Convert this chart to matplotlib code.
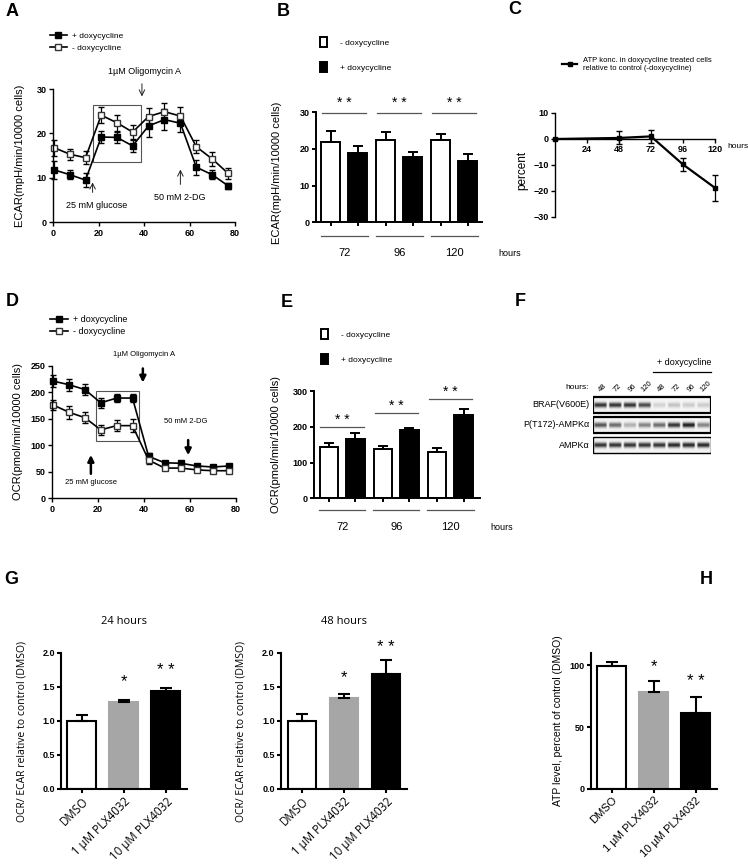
import numpy as np
import matplotlib
matplotlib.use("Agg")
import matplotlib.pyplot as plt
import matplotlib.transforms as mtransforms
from matplotlib.patches import Rectangle

plt.rcParams['font.family'] = ['Liberation Sans', 'DejaVu Sans']

W, H = 748, 867

# A / D: seahorse time course (minutes)
time_min = [0.5, 7.5, 14.3, 21.2, 28.1, 35, 42, 49, 56, 63, 70, 77]
ecar_dox = [11.8, 10.7, 9.5, 19.2, 19.1, 17.2, 21.7, 23.1, 22.3, 12.4, 10.7, 8.2]
ecar_dox_err = [2.0, 1.0, 1.5, 1.3, 1.3, 1.4, 2.4, 2.3, 2.0, 1.7, 1.0, 0.7]
ecar_ctrl = [16.8, 15.3, 14.55, 24.1, 22.4, 20.3, 23.8, 24.9, 23.9, 17.0, 14.25, 11.0]
ecar_ctrl_err = [1.8, 1.2, 1.5, 1.8, 1.8, 1.5, 2.0, 2.0, 2.0, 1.5, 1.5, 1.2]
ocr_dox = [221, 214, 205, 180, 189, 189, 79, 67, 66, 61, 59, 61]
ocr_dox_err = [12, 11, 10, 10, 8, 7, 6, 4, 4, 3, 3, 3]
ocr_ctrl = [176, 162, 152, 129, 137, 137, 72, 57, 57, 53.5, 52, 52]
ocr_ctrl_err = [10, 12, 10, 10, 11, 12, 8, 4, 3, 3, 3, 3]

# B / E: bars per time point
hours = ['72', '96', '120']
ecar_bar_ctrl = [22.0, 22.5, 22.4]
ecar_bar_ctrl_err = [3.0, 2.1, 1.8]
ecar_bar_dox = [19.0, 17.7, 16.8]
ecar_bar_dox_err = [1.7, 1.5, 1.7]
ocr_bar_ctrl = [142.6, 137, 128.6]
ocr_bar_ctrl_err = [13, 10, 11.2]
ocr_bar_dox = [166, 191, 233]
ocr_bar_dox_err = [16.7, 6.6, 16.8]
ocr_sig_y = [200, 237.6, 277.7]

# C: ATP relative to control
atp_hours = [0, 48, 72, 96, 120]
atp_rel = [0, 0.4, 1.0, -9.8, -18.8]
atp_rel_err = [0, 2.5, 2.4, 2.4, 5.0]

# F: western blot band intensities
blot_rows = ['BRAF(V600E)', 'P(T172)-AMPKα', 'AMPKα']
blot_lanes = ['48', '72', '96', '120', '48', '72', '96', '120']
band_braf = [0.85, 0.85, 0.85, 0.75, 0.15, 0.22, 0.18, 0.18]
band_pampk = [0.7, 0.6, 0.3, 0.5, 0.6, 0.85, 0.95, 0.5]
band_ampk = [0.85, 0.85, 0.85, 0.85, 0.85, 0.9, 0.9, 0.9]

# G / H: PLX4032 treatment
treatments = ['DMSO', '1 µM PLX4032', '10 µM PLX4032']
ratio_24h = [1.0, 1.275, 1.44]
ratio_24h_err = [0.083, 0.035, 0.035]
ratio_48h = [1.0, 1.34, 1.68]
ratio_48h_err = [0.10, 0.06, 0.22]
atp_plx = [99.5, 78.6, 61.5]
atp_plx_err = [3.0, 8.7, 13.0]
stars = ['', '*', '**']
bar_colors = ['white', '#a6a6a6', 'black']

fig = plt.figure(figsize=(W / 100, H / 100), dpi=100)


def add_ax(left, top, right, bottom):
    return fig.add_axes([left / W, 1 - bottom / H, (right - left) / W, (bottom - top) / H])


def style(ax, lw=1.0):
    ax.spines['top'].set_visible(False)
    ax.spines['right'].set_visible(False)
    ax.spines['left'].set_linewidth(lw)
    ax.spines['bottom'].set_linewidth(lw)
    ax.tick_params(width=lw, length=3, labelsize=6.5, pad=1.5)
    for t in ax.get_xticklabels() + ax.get_yticklabels():
        t.set_fontweight('bold')


def letter(x, y, s):
    fig.text(x / W, 1 - y / H, s, fontsize=13, fontweight='bold', ha='center', va='center')


# ---------- A / D time courses
def time_course(ax, dox, dox_err, ctrl, ctrl_err):
    e1 = ax.errorbar(time_min, dox, yerr=dox_err, color='black', marker='s', ms=4,
                     mfc='black', mec='black', lw=1.2, capsize=2, elinewidth=0.9,
                     clip_on=False)
    e2 = ax.errorbar(time_min, ctrl, yerr=ctrl_err, color='black', marker='s', ms=4,
                     mfc='white', mec='#333', lw=1.2, capsize=2, elinewidth=0.9,
                     clip_on=False)
    ax.set_xlim(0, 80)
    ax.set_xticks([0, 20, 40, 60, 80])
    return [e1.lines[0], e2.lines[0]]


axA = add_ax(53, 89, 235, 222.3)
lines = time_course(axA, ecar_dox, ecar_dox_err, ecar_ctrl, ecar_ctrl_err)
axA.set_ylim(0, 30)
axA.set_yticks([0, 10, 20, 30])
style(axA)
axA.set_ylabel('ECAR(mpH/min/10000 cells)', fontsize=8)
axA.yaxis.set_label_coords(-0.155, 0.5)
axA.add_patch(Rectangle((17.7, 13.65), 20.8, 12.65, fill=False, ec='#555', lw=0.8))
arr = dict(arrowstyle='->', lw=0.7, color='#222')
axA.annotate('', xy=(39.1, 27.7), xytext=(39.1, 31.8), arrowprops=arr, annotation_clip=False)
axA.text(40, 34, '1µM Oligomycin A', fontsize=6.5, ha='center', va='center', clip_on=False)
axA.annotate('', xy=(17.4, 9.6), xytext=(17.4, 6.1), arrowprops=arr)
axA.text(19.2, 3.7, '25 mM glucose', fontsize=6.5, ha='center', va='center')
axA.annotate('', xy=(56, 12.5), xytext=(56, 7.9), arrowprops=arr)
axA.text(55.7, 5.6, '50 mM 2-DG', fontsize=6.5, ha='center', va='center')
axA.legend(lines, ['+ doxycycline', '- doxycycline'], loc='upper left',
           bbox_to_anchor=(50 / W, 1 - 32 / H), bbox_transform=fig.transFigure,
           frameon=False, fontsize=6, handlelength=2, handletextpad=0.6, labelspacing=0.5,
           borderpad=0, borderaxespad=0)

axD = add_ax(52, 365.7, 236, 498.3)
lines = time_course(axD, ocr_dox, ocr_dox_err, ocr_ctrl, ocr_ctrl_err)
axD.set_ylim(0, 250)
axD.set_yticks([0, 50, 100, 150, 200, 250])
style(axD)
axD.set_ylabel('OCR(pmol/min/10000 cells)', fontsize=8)
axD.yaxis.set_label_coords(-0.158, 0.5)
axD.add_patch(Rectangle((19.2, 108), 18.6, 95, fill=False, ec='#555', lw=0.8))
arrD = dict(arrowstyle='-|>', lw=1.8, color='black', mutation_scale=9)
axD.annotate('', xy=(39.5, 213), xytext=(39.5, 250), arrowprops=arrD, annotation_clip=False)
axD.text(40, 272, '1µM Oligomycin A', fontsize=5.5, ha='center', va='center', clip_on=False)
axD.annotate('', xy=(16.9, 87), xytext=(16.9, 41), arrowprops=arrD)
axD.text(17, 30, '25 mM glucose', fontsize=5.5, ha='center', va='center')
axD.annotate('', xy=(59.2, 76), xytext=(59.2, 115), arrowprops=arrD)
axD.text(58, 144, '50 mM 2-DG', fontsize=5.5, ha='center', va='center')
axD.legend(lines, ['+ doxycycline', '- doxycycline'], loc='upper left',
           bbox_to_anchor=(50 / W, 1 - 315 / H), bbox_transform=fig.transFigure,
           frameon=False, fontsize=6.5, handlelength=2, handletextpad=0.6, labelspacing=0.35,
           borderpad=0, borderaxespad=0)


# ---------- B / E grouped bars
def group_bars(ax, ctrl, ctrl_err, dox, dox_err, sig_y, star_y, line_y, lab_y, hours_x):
    x = np.arange(len(hours))
    wb = ax.bar(x - 0.245, ctrl, 0.345, color='white', edgecolor='black', lw=1.4,
                yerr=[[0] * 3, ctrl_err], capsize=3.5, error_kw=dict(lw=1.4, capthick=1.4),
                label='- doxycycline')
    bb = ax.bar(x + 0.245, dox, 0.345, color='black', edgecolor='black', lw=1.4,
                yerr=[[0] * 3, dox_err], capsize=3.5, error_kw=dict(lw=1.4, capthick=1.4),
                label='+ doxycycline')
    ax.set_xticks(list(x - 0.245) + list(x + 0.245))
    ax.set_xticklabels([])
    trans = mtransforms.blended_transform_factory(ax.transData, ax.transAxes)
    for i, c in enumerate(x):
        ax.plot([c - 0.4, c + 0.4], [sig_y[i]] * 2, color='#555', lw=0.9, clip_on=False)
        ax.text(c, star_y[i], '* *', ha='center', va='center', fontsize=10, clip_on=False)
        ax.plot([c - 0.43, c + 0.43], [line_y] * 2, color='#555', lw=0.9, clip_on=False,
                transform=trans)
        ax.text(c, lab_y, hours[i], ha='center', va='center', fontsize=8, transform=trans)
    ax.text(hours_x, lab_y, 'hours', ha='left', va='center', fontsize=6.5, transform=trans)
    return wb, bb


legend_kw = dict(bbox_transform=fig.transFigure, frameon=False, fontsize=6, handlelength=0.8,
                 handleheight=1.4, handletextpad=1.6, labelspacing=1.9, borderpad=0,
                 borderaxespad=0, loc='upper left')

axB = add_ax(315.7, 112.3, 481.7, 222.3)
handles = group_bars(axB, ecar_bar_ctrl, ecar_bar_ctrl_err, ecar_bar_dox, ecar_bar_dox_err,
                     [29.7] * 3, [32.5] * 3, -0.127, -0.28, 2.8)
axB.set_xlim(-0.52, 2.5)
axB.set_ylim(0, 30)
axB.set_yticks([0, 10, 20, 30])
style(axB, 1.4)
axB.set_ylabel('ECAR(mpH/min/10000 cells)', fontsize=8)
axB.yaxis.set_label_coords(-0.2, 0.45)
axB.legend(handles=handles, bbox_to_anchor=(320 / W, 1 - 37 / H), **legend_kw)

axE = add_ax(314, 391, 480, 498.3)
handles = group_bars(axE, ocr_bar_ctrl, ocr_bar_ctrl_err, ocr_bar_dox, ocr_bar_dox_err,
                     ocr_sig_y, [s + 20 for s in ocr_sig_y], -0.109, -0.27, 2.75)
axE.set_xlim(-0.52, 2.55)
axE.set_ylim(0, 300)
axE.set_yticks([0, 100, 200, 300])
style(axE, 1.4)
axE.set_ylabel('OCR(pmol/min/10000 cells)', fontsize=8)
axE.yaxis.set_label_coords(-0.2, 0.5)
axE.legend(handles=handles, bbox_to_anchor=(321 / W, 1 - 329 / H), **legend_kw)

# ---------- C
axC = add_ax(555, 113, 715, 217)
eC = axC.errorbar(atp_hours, atp_rel, yerr=atp_rel_err, color='black', marker='s', ms=3,
                  lw=1.6, capsize=2, elinewidth=0.9, clip_on=False)
axC.set_xlim(0, 120)
axC.set_ylim(-30, 10)
axC.set_xticks([24, 48, 72, 96, 120])
axC.set_yticks([-30, -20, -10, 0, 10])
axC.spines['bottom'].set_position(('data', 0))
style(axC)
axC.set_ylabel('percent', fontsize=8.5)
axC.yaxis.set_label_coords(-0.17, 0.45)
axC.text(129, -3, 'hours', fontsize=6, ha='left', va='center')
axC.legend([eC.lines[0]],
           ['ATP konc. in doxycycline treated cells\nrelative to control (-doxycycline)'],
           loc='upper left', bbox_to_anchor=(562 / W, 1 - 57 / H), bbox_transform=fig.transFigure,
           frameon=False, fontsize=5.5, handlelength=2, handletextpad=0.7,
           borderpad=0, borderaxespad=0)

# ---------- F western blot
axF = add_ax(593, 395, 711, 455)


def blot_row(levels, nx=240, ny=40):
    xs = np.linspace(-0.5, 7.5, nx)
    ys = np.linspace(-0.5, 0.5, ny)
    lane = np.clip(np.round(xs), 0, 7).astype(int)
    dist = np.abs(xs - np.round(xs))
    hprof = np.clip((0.46 - dist) / 0.1, 0, 1)
    vprof = np.exp(-(ys / 0.16) ** 2)
    amp = np.array(levels)[lane] * hprof
    return 0.96 - 0.9 * vprof[:, None] * amp[None, :]


for r, levels in enumerate([band_braf, band_pampk, band_ampk]):
    axF.imshow(blot_row(levels), cmap='gray', vmin=0, vmax=1, aspect='auto',
               extent=(-0.5, 7.5, r + 0.4, r - 0.4), interpolation='bilinear')
    axF.add_patch(Rectangle((-0.5, r - 0.4), 8, 0.8, fill=False, ec='black',
                            lw=1.6 if r < 2 else 1.0))
    axF.text(-0.75, r, blot_rows[r], ha='right', va='center', fontsize=6.5, clip_on=False)
axF.set_xlim(-0.5, 7.5)
axF.set_ylim(2.5, -0.5)
axF.axis('off')
for i, lab in enumerate(blot_lanes):
    axF.text(i + 0.15, -0.6, lab, rotation=45, ha='center', va='bottom', fontsize=5.5,
             clip_on=False)
axF.text(-0.75, -0.85, 'hours:', ha='right', va='center', fontsize=6)
axF.plot([3.6, 7.5], [-1.65, -1.65], color='black', lw=0.9, clip_on=False)
axF.text(5.7, -2.1, '+ doxycycline', ha='center', va='center', fontsize=6.5)


# ---------- G / H single bars
def treatment_bars(ax, vals, errs, star_y, font, tick_size):
    x = np.arange(len(treatments))
    ax.bar(x, vals, 0.69, color=bar_colors, edgecolor=['black', '#a6a6a6', 'black'], lw=1.5,
           yerr=[[0] * 3, errs], capsize=4.5, error_kw=dict(lw=1.5, capthick=1.5, ecolor='black'))
    for i in x:
        ax.text(i, star_y[i], ' '.join(stars[i]), ha='center', va='center',
                fontsize=12, clip_on=False)
    ax.set_xticks(x)
    ax.set_xlim(-0.5, 2.5)
    style(ax, 1.5)
    ax.set_xticklabels(treatments, rotation=45, ha='right', rotation_mode='anchor',
                       fontsize=tick_size, family=font, fontweight='normal')


for left, right, vals, errs, star_y, title in [
        (61, 186.7, ratio_24h, ratio_24h_err, [0, 1.57, 1.74], '24 hours'),
        (281, 407, ratio_48h, ratio_48h_err, [0, 1.64, 2.07], '48 hours')]:
    ax = add_ax(left, 652.7, right, 788.7)
    treatment_bars(ax, vals, errs, star_y, 'Open Sans', 8.3)
    ax.set_ylim(0, 2.0)
    ax.set_yticks([0, 0.5, 1.0, 1.5, 2.0])
    ax.set_yticklabels(['0.0', '0.5', '1.0', '1.5', '2.0'], fontweight='bold', fontsize=6.5)
    ax.set_ylabel('OCR/ ECAR relative to control (DMSO)', fontsize=7.5, family='Open Sans')
    ax.yaxis.set_label_coords(-0.27, 0.42)
    ax.text(0.5, 1.23, title, transform=ax.transAxes, ha='center', va='center',
            fontsize=8, family='Open Sans')

axH = add_ax(591, 652.7, 716.7, 789)
treatment_bars(axH, atp_plx, atp_plx_err, [0, 99, 87], 'Liberation Sans', 8)
axH.set_ylim(0, 110)
axH.set_yticks([0, 50, 100])
axH.set_yticklabels(['0', '50', '100'], fontweight='bold', fontsize=6.5)
axH.set_ylabel('ATP level, percent of control (DMSO)', fontsize=7.5)
axH.yaxis.set_label_coords(-0.22, 0.5)

for x, y, s in [(12, 12, 'A'), (283, 11, 'B'), (515, 10, 'C'), (12, 301, 'D'),
                (287, 302, 'E'), (520, 301, 'F'), (11, 580, 'G'), (706, 580, 'H')]:
    letter(x, y, s)

fig.savefig('out.png', dpi=100)
